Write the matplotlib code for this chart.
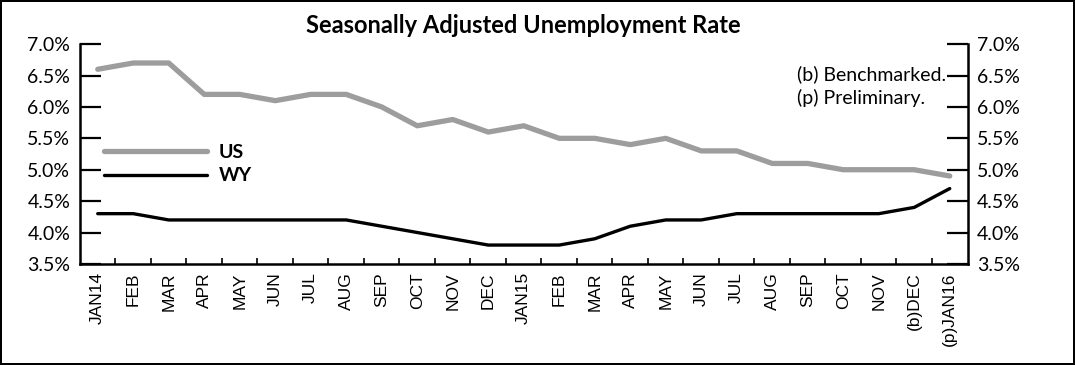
import matplotlib.pyplot as plt
import numpy as np

plt.rcParams["font.family"] = ["Lato", "DejaVu Sans"]

months = ["JAN14", "FEB", "MAR", "APR", "MAY", "JUN", "JUL", "AUG", "SEP", "OCT",
          "NOV", "DEC", "JAN15", "FEB", "MAR", "APR", "MAY", "JUN", "JUL", "AUG",
          "SEP", "OCT", "NOV", "(b)DEC", "(p)JAN16"]
us_rate = [6.6, 6.7, 6.7, 6.2, 6.2, 6.1, 6.2, 6.2, 6.0, 5.7, 5.8, 5.6, 5.7,
           5.5, 5.5, 5.4, 5.5, 5.3, 5.3, 5.1, 5.1, 5.0, 5.0, 5.0, 4.9]
wy_rate = [4.3, 4.3, 4.2, 4.2, 4.2, 4.2, 4.2, 4.2, 4.1, 4.0, 3.9, 3.8, 3.8,
           3.8, 3.9, 4.1, 4.2, 4.2, 4.3, 4.3, 4.3, 4.3, 4.3, 4.4, 4.7]
y_ticks = [3.5, 4.0, 4.5, 5.0, 5.5, 6.0, 6.5, 7.0]

fig = plt.figure(figsize=(10.75, 3.65), dpi=100, edgecolor="black", linewidth=1.5)
ax = fig.add_axes([0.0744, 0.277, 0.8256, 0.602])

x = np.arange(len(months))
ax.plot(x, us_rate, color="#9d9d9d", lw=3.8, label="US", solid_capstyle="round")
ax.plot(x, wy_rate, color="black", lw=2.4, label="WY", solid_capstyle="round")

ax.set_xlim(-0.5, len(months) - 0.5)
ax.set_ylim(3.5, 7.0)

# y axis on both sides, ticks pointing inward
ax.set_yticks(y_ticks)
ax.set_yticklabels([f"{v:.1f}%" for v in y_ticks])
ax.tick_params(axis="y", direction="in", length=15, width=1.6, labelsize=14,
               left=True, right=True, labelleft=True, labelright=True, pad=7)

# month labels at points, tick marks between months
ax.set_xticks(x)
ax.set_xticklabels(months, rotation=90, fontsize=12.5, family="Liberation Sans")
ax.tick_params(axis="x", which="major", length=0, pad=6)
ax.set_xticks(x[:-1] + 0.5, minor=True)
ax.tick_params(axis="x", which="minor", direction="in", length=4, width=1.2)

for side in ["left", "right", "bottom"]:
    ax.spines[side].set_linewidth(1.8)
ax.spines["top"].set_visible(False)

ax.set_title("Seasonally Adjusted Unemployment Rate", fontsize=17, fontweight="bold", pad=8)

ax.legend(loc="upper left", bbox_to_anchor=(0.016, 0.59), frameon=False,
          handlelength=5.3, handletextpad=0.6, labelspacing=0.33, borderpad=0,
          prop={"weight": "bold", "size": 14})

ax.text(0.808, 0.905, "(b) Benchmarked.\n(p) Preliminary.", transform=ax.transAxes,
        ha="left", va="top", fontsize=14, linespacing=1.4)

fig.savefig("out.png", dpi=100)
